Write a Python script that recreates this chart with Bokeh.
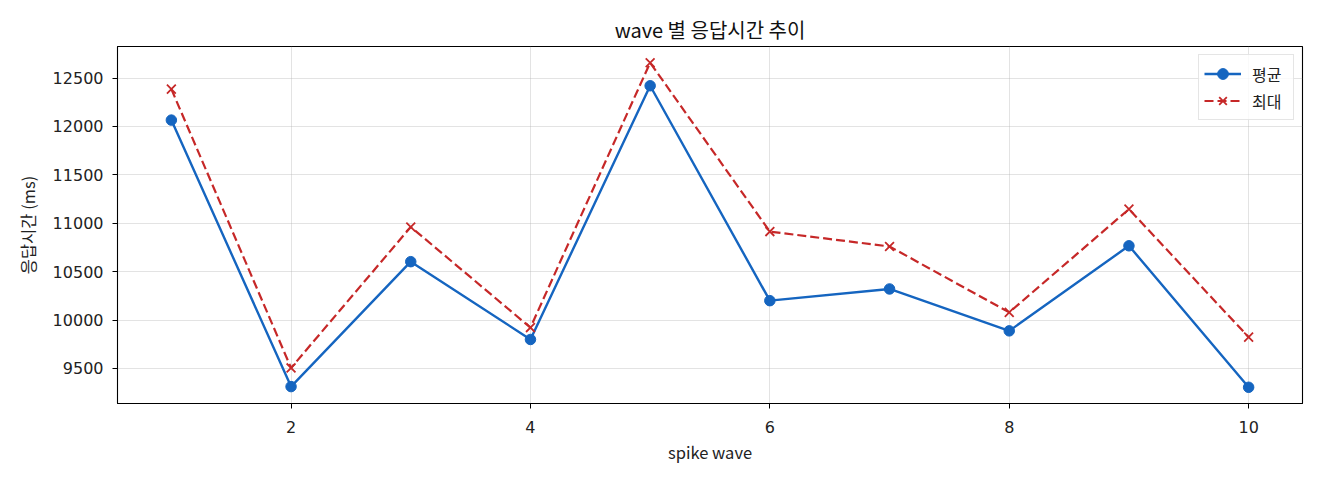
from bokeh.embed import file_html
from bokeh.models import ColumnDataSource, Legend, LegendItem, Range1d, SingleIntervalTicker
from bokeh.plotting import figure
from bokeh.resources import INLINE

# spike wave 번호별 응답시간 (ms)
waves = [1, 2, 3, 4, 5, 6, 7, 8, 9, 10]
avg_ms = [12066, 9312, 10603, 9799, 12421, 10200, 10321, 9888, 10767, 9305]
max_ms = [12386, 9505, 10962, 9922, 12659, 10914, 10760, 10079, 11146, 9823]

BLUE = "#1565C0"
RED = "#C62828"
KR_FONT = "Noto Sans CJK KR"

src = ColumnDataSource(data=dict(wave=waves, avg=avg_ms, max=max_ms))

# matplotlib-style 5% padding around data
x_pad = (max(waves) - min(waves)) * 0.05
lo = min(avg_ms + max_ms)
hi = max(avg_ms + max_ms)
y_pad = (hi - lo) * 0.05

p = figure(
    width=1312,
    height=472,
    title="wave 별 응답시간 추이",
    x_range=Range1d(min(waves) - x_pad, max(waves) + x_pad),
    y_range=Range1d(lo - y_pad, hi + y_pad),
    output_backend="svg",
    toolbar_location=None,
    min_border_left=117,
    min_border_right=10,
    min_border_top=46,
    min_border_bottom=69,
    outline_line_color="black",
    outline_line_width=1.1,
    background_fill_color="white",
    border_fill_color="white",
)

avg_line = p.line("wave", "avg", source=src, line_color=BLUE, line_width=2.4)
avg_pts = p.scatter("wave", "avg", source=src, marker="circle", size=10.5,
                    fill_color=BLUE, line_color=BLUE)
max_line = p.line("wave", "max", source=src, line_color=RED, line_width=2.2,
                  line_dash="9 4")
max_pts = p.scatter("wave", "max", source=src, marker="x", size=12.5,
                    line_color=RED, line_width=1.8)

legend = Legend(
    items=[
        LegendItem(label="평균", renderers=[avg_line, avg_pts]),
        LegendItem(label="최대", renderers=[max_line, max_pts]),
    ],
    location="top_right",
    margin=8,
    padding=5,
    spacing=0,
    glyph_width=37,
    glyph_height=27,
    label_height=20,
    label_width=36,
    label_standoff=11,
    label_text_font=KR_FONT,
    label_text_font_size="16px",
    label_text_color="#222222",
    border_line_color="#cccccc",
    border_line_width=1.2,
    background_fill_color="white",
    background_fill_alpha=0.8,
)
p.add_layout(legend)

p.title.align = "center"
p.title.text_font = KR_FONT
p.title.text_font_size = "20px"
p.title.text_font_style = "normal"
p.title.text_color = "#111111"
p.title.standoff = 6

p.xaxis.ticker = SingleIntervalTicker(interval=2)
p.yaxis.ticker = SingleIntervalTicker(interval=500)
p.xaxis.axis_label = "spike wave"
p.yaxis.axis_label = "응답시간 (ms)"

p.axis.minor_tick_line_color = None
p.axis.major_tick_in = 0
p.axis.major_tick_out = 5
p.axis.major_tick_line_color = "black"
p.axis.axis_line_color = "black"
p.axis.major_label_text_font = "DejaVu Sans"
p.axis.major_label_text_font_size = "16px"
p.axis.major_label_text_color = "#222222"
p.axis.axis_label_text_font = KR_FONT
p.axis.axis_label_text_font_size = "16.5px"
p.axis.axis_label_text_font_style = "normal"
p.axis.axis_label_text_color = "#222222"
p.xaxis.major_label_standoff = 12
p.yaxis.major_label_standoff = 9
p.xaxis.axis_label_standoff = 4
p.yaxis.axis_label_standoff = 10

p.grid.grid_line_color = "#b0b0b0"
p.grid.grid_line_alpha = 0.35
p.grid.grid_line_width = 1

open("out.html", "w").write(file_html(p, INLINE))
